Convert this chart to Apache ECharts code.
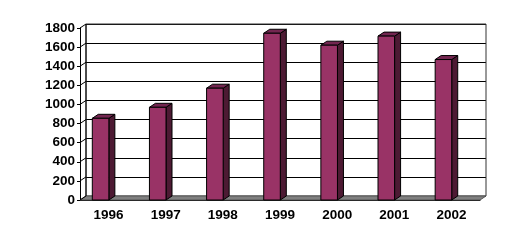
<!DOCTYPE html>
<html><head><meta charset="utf-8">
<script src="https://cdn.jsdelivr.net/npm/echarts@6/dist/echarts.min.js"></script>
<style>html,body{margin:0;padding:0;background:#fff}#c{width:526px;height:245px}</style>
</head><body><div id="c"></div>
<script>
const years = ['1996','1997','1998','1999','2000','2001','2002'];
const values = [855, 970, 1170, 1745, 1620, 1715, 1470];
const yTicks = [0, 200, 400, 600, 800, 1000, 1200, 1400, 1600, 1800];

const DX = 6, DY = -4;
const font = {fontFamily: '"Liberation Sans", Arial, sans-serif', fontWeight: 'bold', fontSize: 13.5, color: '#000'};
const chart = echarts.init(document.getElementById('c'), null, {renderer: 'canvas'});

chart.setOption({
  animation: false,
  grid: [
    {left: 80, right: 46, top: 28, bottom: 45},
    {left: 86, right: 40, top: 24, bottom: 49}
  ],
  xAxis: [
    {type: 'category', data: years, gridIndex: 0,
     axisLine: {lineStyle: {color: '#000'}},
     axisTick: {length: 3, lineStyle: {color: '#000'}},
     axisLabel: Object.assign({margin: 8}, font)},
    {type: 'category', data: years, gridIndex: 1,
     axisLine: {show: false}, axisTick: {show: false}, axisLabel: {show: false}}
  ],
  yAxis: [
    {type: 'value', min: 0, max: 1800, interval: 200, gridIndex: 0,
     axisLine: {show: true, lineStyle: {color: '#000'}},
     axisTick: {show: true, length: 3, lineStyle: {color: '#000'}},
     axisLabel: Object.assign({margin: 5, formatter: v => String(v)}, font),
     splitLine: {show: false}},
    {type: 'value', min: 0, max: 1800, interval: 200, gridIndex: 1,
     axisLine: {show: false}, axisTick: {show: false}, axisLabel: {show: false},
     splitLine: {show: true, lineStyle: {color: '#000', width: 1}}}
  ],
  series: [
    { // back wall outline
      type: 'custom', xAxisIndex: 1, yAxisIndex: 1, data: [[0, 0]], z: 1, silent: true,
      renderItem: function (params, api) {
        const cs = params.coordSys;
        return {type: 'rect', shape: {x: cs.x, y: cs.y, width: cs.width, height: cs.height},
                style: {fill: null, stroke: '#333', lineWidth: 1}};
      }
    },
    { // floor
      type: 'custom', xAxisIndex: 0, yAxisIndex: 0, data: [[0, 0]], z: 2, silent: true,
      renderItem: function (params, api) {
        const cs = params.coordSys;
        const yb = api.coord([0, 0])[1];
        const x0 = cs.x, x1 = cs.x + cs.width;
        return {type: 'polygon', shape: {points: [[x0, yb], [x1, yb], [x1 + DX, yb + DY], [x0 + DX, yb + DY]]},
                style: {fill: '#808080', stroke: '#555', lineWidth: 1}};
      }
    },
    { // side wall diagonals
      type: 'custom', xAxisIndex: 0, yAxisIndex: 0, data: yTicks.map(v => [0, v]), z: 2, silent: true,
      renderItem: function (params, api) {
        const cs = params.coordSys;
        const y = api.coord([0, api.value(1)])[1];
        return {type: 'line', shape: {x1: cs.x, y1: y, x2: cs.x + DX, y2: y + DY},
                style: {stroke: '#000', lineWidth: 1}};
      }
    },
    { // left edge of back wall
      type: 'custom', xAxisIndex: 0, yAxisIndex: 0, data: [[0, 0]], z: 2, silent: true,
      renderItem: function (params, api) {
        const cs = params.coordSys;
        return {type: 'line', shape: {x1: cs.x + DX, y1: cs.y + DY, x2: cs.x + DX, y2: cs.y + cs.height + DY},
                style: {stroke: '#000', lineWidth: 1}};
      }
    },
    { // 3D bars
      type: 'custom', xAxisIndex: 0, yAxisIndex: 0, z: 5, silent: true,
      data: values.map((v, i) => [i, v]),
      renderItem: function (params, api) {
        const i = api.value(0), v = api.value(1);
        const top = api.coord([i, v]);
        const base = api.coord([i, 0]);
        const band = api.size([1, 0])[0];
        const fw = band * 0.29;
        const right = top[0] + 0.3;
        const left = right - fw;
        const yt = top[1], yb = base[1];
        const st = {stroke: '#000', lineWidth: 1};
        return {type: 'group', children: [
          {type: 'polygon', shape: {points: [[right, yt], [right + DX, yt + DY], [right + DX, yb + DY], [right, yb]]},
           style: Object.assign({fill: '#4d1a33'}, st)},
          {type: 'polygon', shape: {points: [[left, yt], [right, yt], [right + DX, yt + DY], [left + DX, yt + DY]]},
           style: Object.assign({fill: '#732650'}, st)},
          {type: 'rect', shape: {x: left, y: yt, width: fw, height: yb - yt},
           style: Object.assign({fill: '#993366'}, st)}
        ]};
      }
    }
  ]
});
</script>
</body></html>
